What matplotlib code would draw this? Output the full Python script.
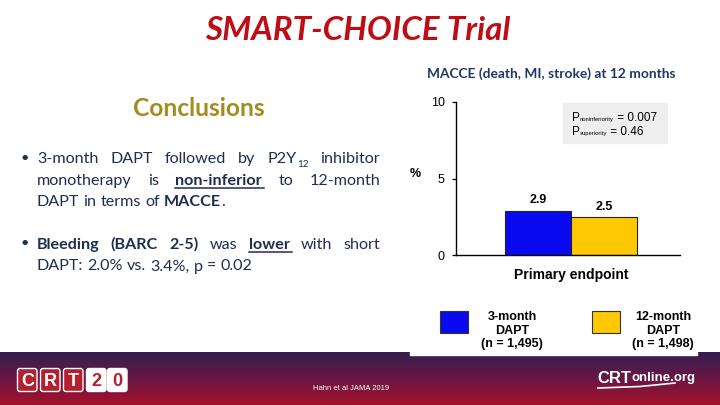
import numpy as np
import matplotlib
matplotlib.use("Agg")
import matplotlib.pyplot as plt
from matplotlib.patches import Rectangle, FancyBboxPatch
from matplotlib.colors import LinearSegmentedColormap

# ---------------- data ----------------
groups = ["3-month DAPT", "12-month DAPT"]
legend_labels = ["3-month\nDAPT\n(n = 1,495)", "12-month\nDAPT\n(n = 1,498)"]
category = ["Primary endpoint"]
macce = [2.9, 2.5]
value_labels = ["2.9", "2.5"]
yticks = [0, 5, 10]
p_names = ["noninferiority", "superiority"]
p_values = ["0.007", "0.46"]
bar_colors = ["#0a0af0", "#ffc800"]

SLIDE = "Lato"
CHART = "Liberation Sans"
NAVY = "#1f2d4f"

W, H = 720, 405
fig = plt.figure(figsize=(7.2, 4.05), dpi=100)
bg = fig.add_axes([0, 0, 1, 1], zorder=0)
bg.set_xlim(0, W)
bg.set_ylim(H, 0)
bg.axis("off")
renderer = fig.canvas.get_renderer()


def measure(s, size, weight="normal", family=SLIDE, style="normal"):
    t = bg.text(0, 0, s, fontsize=size, fontweight=weight, family=family, fontstyle=style)
    w = t.get_window_extent(renderer).width
    t.remove()
    return w


def fit(s, width, weight="normal", family=SLIDE, style="normal"):
    return 10 * width / measure(s, 10, weight, family, style)


# ---------------- footer ----------------
cmap = LinearSegmentedColormap.from_list("f", ["#33204f", "#6a1645", "#a3122b"])
grad = np.linspace(0, 1, 64).reshape(-1, 1)
bg.imshow(grad, cmap=cmap, extent=[0, W, H, 352], aspect="auto", zorder=1)
bg.add_patch(Rectangle((410, 351), 287, 4, color="white", zorder=2))

# CRT20 logo
letters = ["C", "R", "T", "2", "0"]
xs = [17, 40, 63, 86, 107]
for i, (ch, x0) in enumerate(zip(letters, xs)):
    red = i < 3
    bg.add_patch(FancyBboxPatch((x0 + 1, 369), 18.5, 22, boxstyle="round,pad=0.5,rounding_size=2.5",
                                fc="#b3202f" if red else "white", ec="white", lw=1.0, zorder=3))
    bg.text(x0 + 10.5, 381, ch, ha="center", va="center", fontsize=13, fontweight="bold",
            family=CHART, color="white" if red else "#b3202f", zorder=4)

bg.text(597, 383, "CRT", fontsize=12, fontweight="bold", family=CHART, color="white",
        va="baseline", zorder=4)
bg.text(631, 381, "online.org", fontsize=9.5, fontweight="bold", family=CHART, color="white",
        va="baseline", zorder=4)
bg.plot([598, 640, 675], [388, 386.5, 383], color="white", lw=1.2, zorder=4)
bg.text(313, 388, "Hahn et al JAMA 2019", fontsize=5.5, family=CHART, color="white",
        va="center", zorder=4)

# ---------------- slide titles ----------------
t_title = "SMART-CHOICE Trial"
s = fit(t_title, 305, "bold", style="italic")
bg.text(205, 40, t_title, fontsize=s, fontweight="bold", fontstyle="italic", family=SLIDE,
        color="#bf0d16", va="baseline")

t_conc = "Conclusions"
s = fit(t_conc, 132, "bold")
bg.text(133, 116.5, t_conc, fontsize=s, fontweight="bold", family=SLIDE, color="#a38b1d",
        va="baseline")

t_chart = "MACCE (death, MI, stroke) at 12 months"
s = fit(t_chart, 249, "bold")
bg.text(427, 78, t_chart, fontsize=s, fontweight="bold", family=SLIDE, color="#1f3864",
        va="baseline")

# ---------------- bullet text ----------------
BS = fit("DAPT: 2.0% vs. 3.4%, p = 0.02", 214)
X0, X1 = 37, 380


def run_w(txt, sty):
    if sty == "sub":
        return measure(txt, BS * 0.62)
    return measure(txt, BS, "bold" if "b" in sty else "normal")


def draw_run(x, y, txt, sty):
    if sty == "sub":
        bg.text(x, y + 4, txt, fontsize=BS * 0.62, family=SLIDE, color=NAVY, va="baseline")
        return run_w(txt, sty)
    w = run_w(txt, sty)
    bg.text(x, y, txt, fontsize=BS, fontweight="bold" if "b" in sty else "normal",
            family=SLIDE, color=NAVY, va="baseline")
    if "u" in sty:
        bg.plot([x, x + w + 2], [y + 2.5, y + 2.5], color=NAVY, lw=1.1)
    return w


def draw_line(words, y, justify):
    widths = [sum(run_w(t, st) for t, st in wd) for wd in words]
    if justify:
        gap = (X1 - X0 - sum(widths)) / (len(words) - 1)
    else:
        gap = measure("a a", BS) - measure("aa", BS)
    x = X0
    for wd, w in zip(words, widths):
        xx = x
        for t, st in wd:
            xx += draw_run(xx, y, t, st)
        x += w + gap


n = "n"
lines = [
    ([[("3-month", n)], [("DAPT", n)], [("followed", n)], [("by", n)],
      [("P2Y", n), ("12", "sub")], [("inhibitor", n)]], 163, True),
    ([[("monotherapy", n)], [("is", n)], [("non-inferior", "bu")], [("to", n)],
      [("12-month", n)]], 185, True),
    ([[("DAPT", n)], [("in", n)], [("terms", n)], [("of", n)], [("MACCE", "b"), (".", n)]],
     206.5, False),
    ([[("Bleeding", "b")], [("(BARC", "b")], [("2-5)", "b")], [("was", n)],
      [("lower", "bu")], [("with", n)], [("short", n)]], 249, True),
    ([[("DAPT:", n)], [("2.0%", n)], [("vs.", n)], [("3.4%,", n)], [("p", n)], [("=", n)],
      [("0.02", n)]], 270.5, False),
]
for words, y, j in lines:
    draw_line(words, y, j)
for y in (158, 243):
    bg.text(20, y, "\u2022", fontsize=BS * 0.9, family=SLIDE, color=NAVY, va="center")

# ---------------- chart ----------------
ax = fig.add_axes([456 / W, (H - 255) / H, 224 / W, 153 / H], zorder=2)
ax.patch.set_alpha(0)
xpos = np.arange(len(groups))
bars = ax.bar(xpos, macce, width=1.0, color=bar_colors, edgecolor="#222222", linewidth=0.8)
ax.bar_label(bars, labels=value_labels, padding=3, fontsize=9, fontweight="bold", family=CHART)
ax.set_xlim(-1.242, 2.152)
ax.set_ylim(0, 10)
ax.set_yticks(yticks)
ax.set_yticklabels([str(v) for v in yticks], family=CHART, fontsize=9)
ax.set_xticks([xpos.mean()])
ax.set_xticklabels(category, family=CHART, fontsize=10, fontweight="bold")
ax.tick_params(axis="x", length=0, pad=9)
ax.tick_params(axis="y", length=3, width=0.9, pad=5)
for sp in ("top", "right"):
    ax.spines[sp].set_visible(False)
for sp in ("left", "bottom"):
    ax.spines[sp].set_linewidth(1.0)
ax.set_ylabel("%", rotation=0, fontsize=9, fontweight="bold", family=CHART)
ax.yaxis.set_label_coords(-0.183, 0.49)

# p-value box
bg.add_patch(Rectangle((563, 103), 104, 40, color="#eeeeee", zorder=1))
for i, (nm, pv) in enumerate(zip(p_names, p_values)):
    y = 121 + i * 14
    x = 572
    bg.text(x, y, "P", fontsize=8.5, family=CHART, va="baseline", zorder=3)
    x += measure("P", 8.5, family=CHART)
    bg.text(x, y, nm, fontsize=4.2, family=CHART, va="baseline", zorder=3)
    x += measure(nm, 4.2, family=CHART)
    bg.text(x, y, " = " + pv, fontsize=8.5, family=CHART, va="baseline", zorder=3)

# legend
for x0, c, lab, cx in zip([440, 592], bar_colors, legend_labels, [512, 663]):
    bg.add_patch(Rectangle((x0, 311), 28, 22, fc=c, ec="#333333", lw=0.8, zorder=3))
    bg.text(cx, 330.5, lab, ha="center", va="center", fontsize=9, fontweight="bold",
            family=CHART, linespacing=1.15, zorder=3)

fig.savefig("out.png", dpi=100)
